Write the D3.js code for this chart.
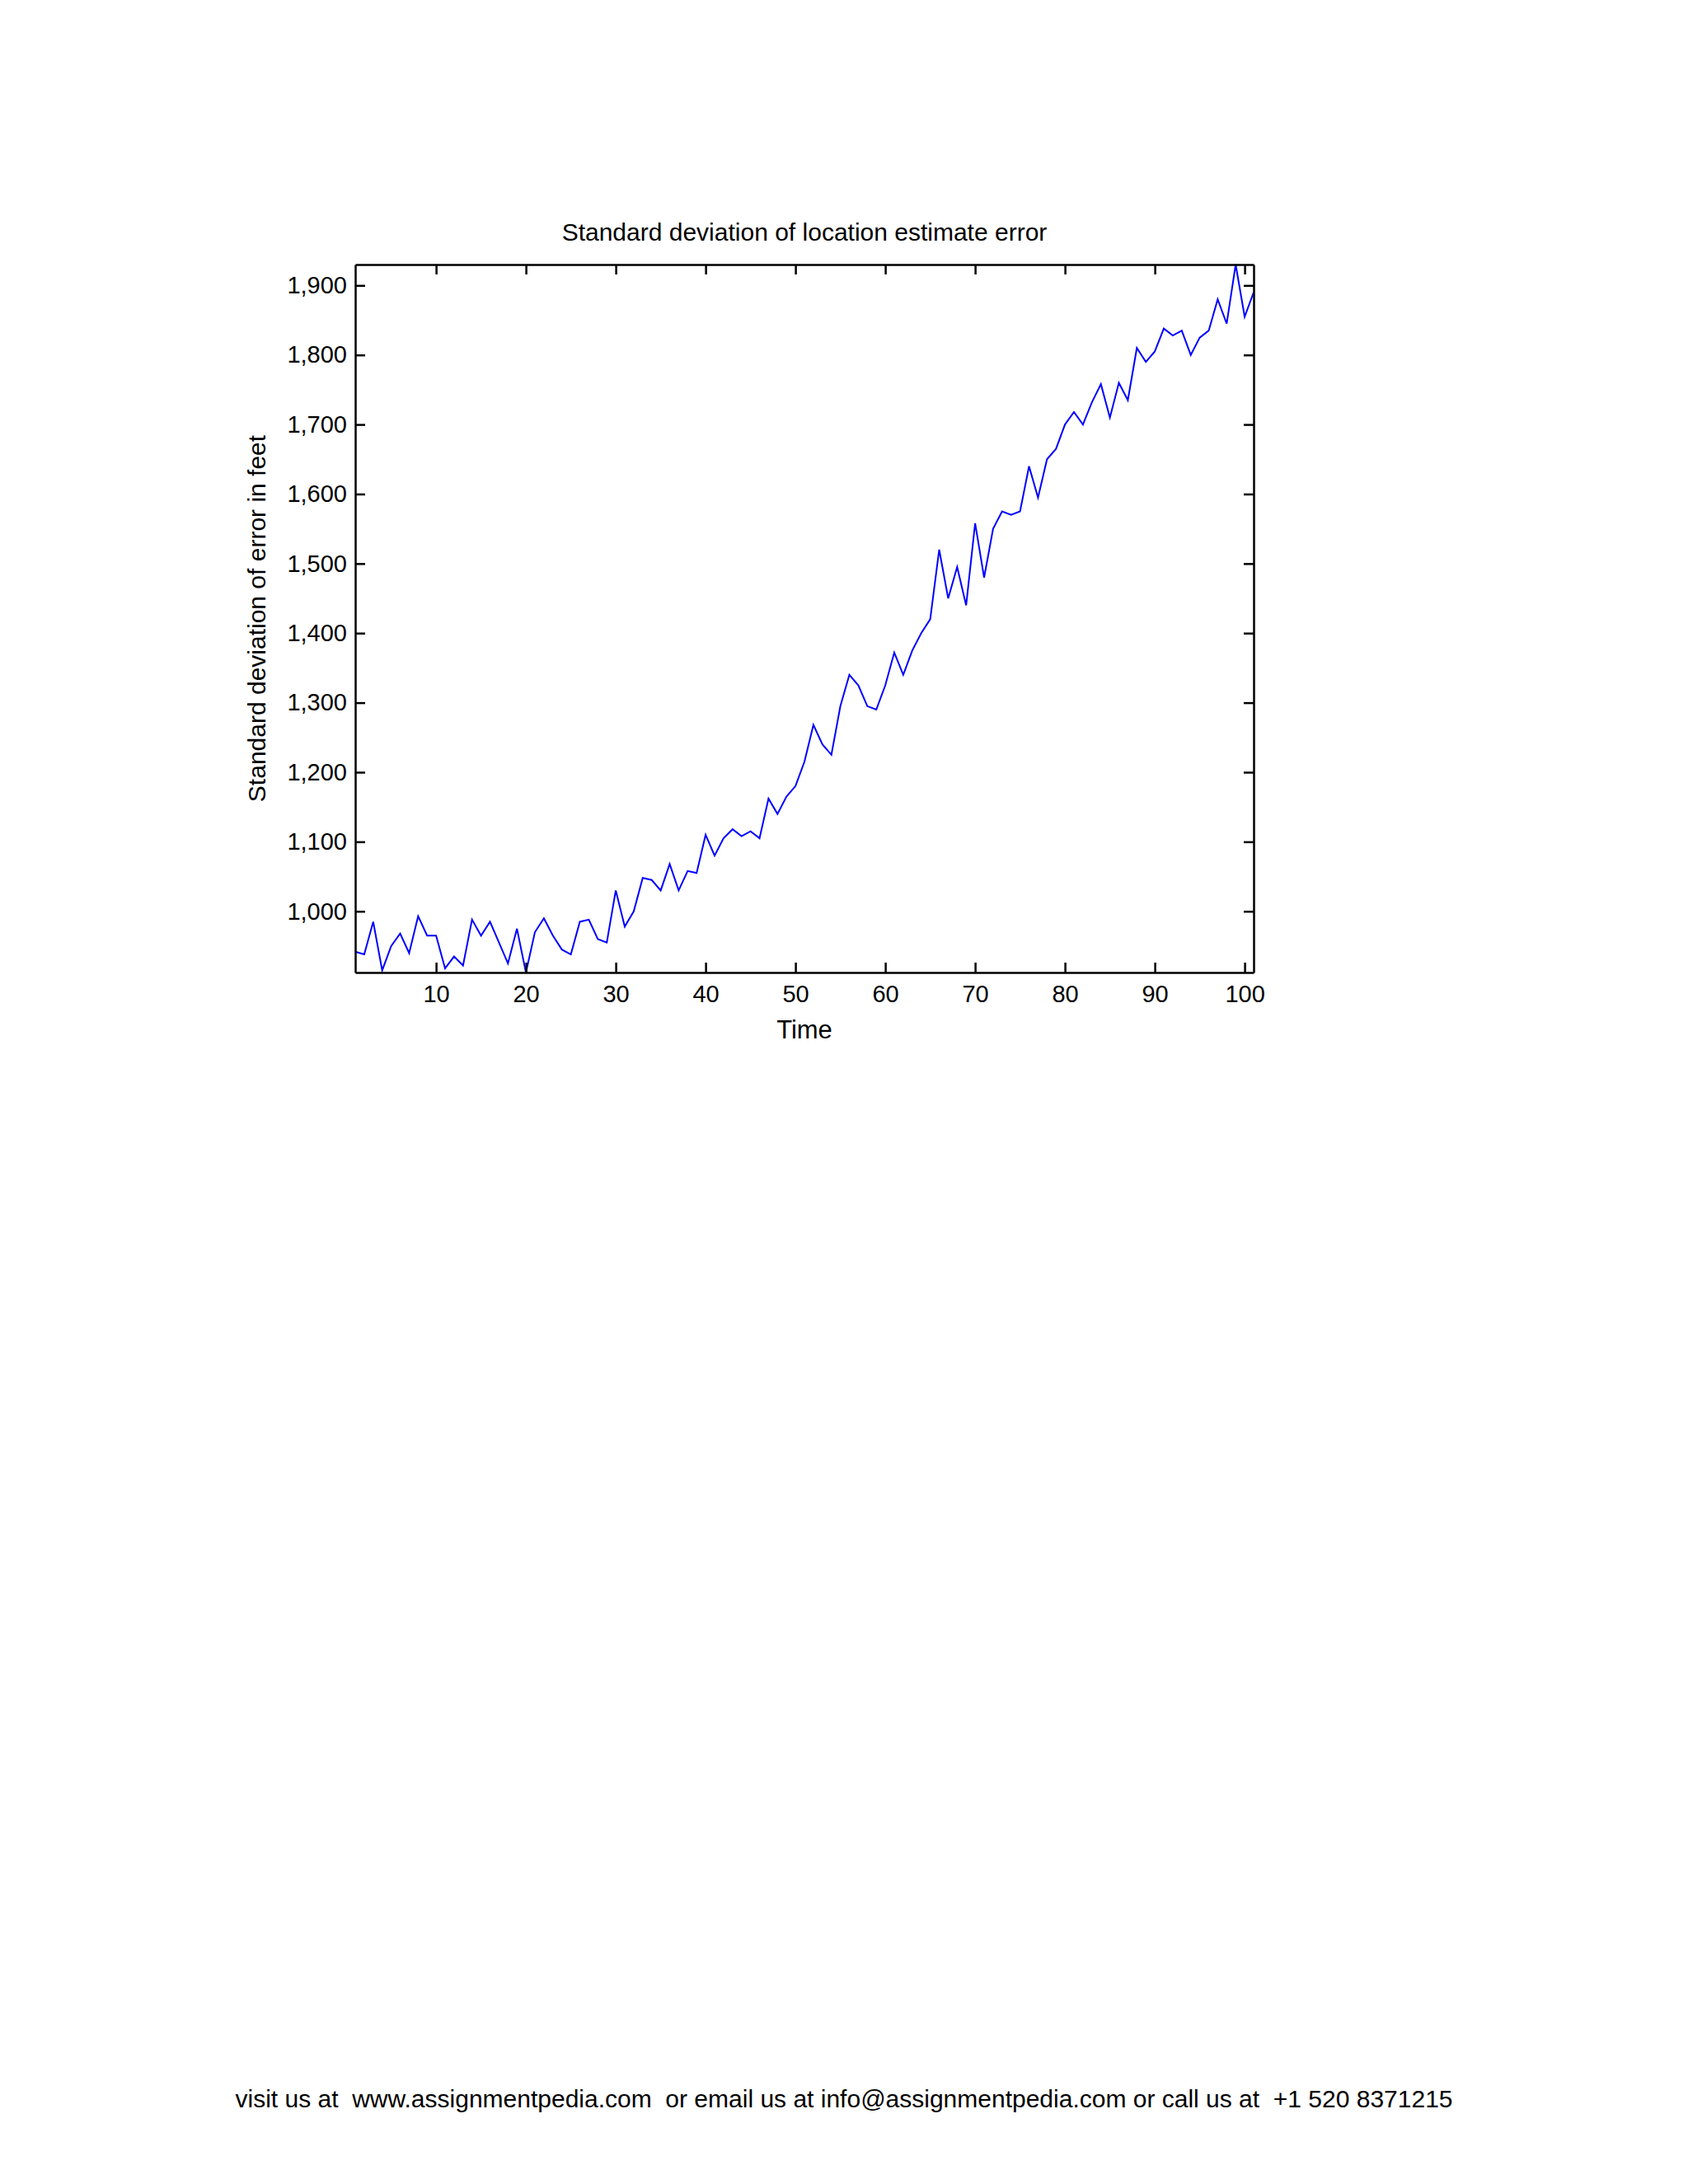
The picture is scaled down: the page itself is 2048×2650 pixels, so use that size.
<!DOCTYPE html>
<html>
<head>
<meta charset="utf-8">
<script src="https://cdn.jsdelivr.net/npm/d3@7"></script>
<style>
  body { margin: 0; background: #fff; }
  text { font-family: "Liberation Sans", Arial, sans-serif; }
</style>
</head>
<body>
<svg id="chart" width="2048" height="2650"></svg>
<script>
// Time steps (1..101) and std dev of location error (feet)
const times = d3.range(1, 102);
const stdDev = [942, 938, 985, 915, 950, 968, 940, 993, 965, 965,
  918, 935, 922, 988, 965, 985, 955, 925, 975, 912,
  970, 990, 965, 945, 938, 985, 988, 960, 955, 1030,
  978, 1000, 1048, 1045, 1030, 1068, 1030, 1058, 1055, 1110,
  1080, 1105, 1118, 1108, 1115, 1105, 1162, 1140, 1165, 1180,
  1215, 1268, 1240, 1225, 1295, 1340, 1325, 1295, 1290, 1325,
  1372, 1340, 1375, 1400, 1420, 1520, 1450, 1495, 1440, 1558,
  1480, 1550, 1575, 1570, 1575, 1640, 1595, 1650, 1665, 1700,
  1718, 1700, 1732, 1758, 1710, 1760, 1735, 1810, 1790, 1805,
  1838, 1828, 1835, 1800, 1825, 1835, 1880, 1845, 1930, 1855, 1890];
const xTicks = [10, 20, 30, 40, 50, 60, 70, 80, 90, 100];
const yTicks = [1000, 1100, 1200, 1300, 1400, 1500, 1600, 1700, 1800, 1900];

// Plot box
const plotLeft = 431, plotRight = 1521, plotTop = 321, plotBottom = 1180;
const svg = d3.select("#chart");

const xScale = d3.scaleLinear().domain([1, 101]).range([plotLeft, plotRight]);
const yScale = d3.scaleLinear().domain([912, 1930]).range([plotBottom, plotTop]);

// Data line
svg.append("path")
  .datum(times)
  .attr("fill", "none")
  .attr("stroke", "#0000ff")
  .attr("stroke-width", 2)
  .attr("d", d3.line().x(d => xScale(d)).y((d, i) => yScale(stdDev[i])));

const tickLen = 12;
const fontSize = 29;

// Axes: ticks inward, MATLAB style box
const axB = svg.append("g").attr("transform", `translate(0,${plotBottom})`)
  .call(d3.axisBottom(xScale).tickValues(xTicks).tickSizeInner(-tickLen).tickSizeOuter(0).tickPadding(10));
const axT = svg.append("g").attr("transform", `translate(0,${plotTop})`)
  .call(d3.axisTop(xScale).tickValues(xTicks).tickSizeInner(-tickLen).tickSizeOuter(0).tickFormat(""));
const axL = svg.append("g").attr("transform", `translate(${plotLeft},0)`)
  .call(d3.axisLeft(yScale).tickValues(yTicks).tickSizeInner(-tickLen).tickSizeOuter(0).tickPadding(10));
const axR = svg.append("g").attr("transform", `translate(${plotRight},0)`)
  .call(d3.axisRight(yScale).tickValues(yTicks).tickSizeInner(-tickLen).tickSizeOuter(0).tickFormat(""));

[axB, axT, axL, axR].forEach(a => {
  a.selectAll("path, line").attr("stroke", "#000").attr("stroke-width", 2.5);
  a.selectAll("text").attr("font-size", fontSize).attr("fill", "#000")
    .attr("font-family", "'Liberation Sans', Arial, sans-serif");
});
axB.selectAll("text").attr("dy", "0.9em");

// Title and axis labels
svg.append("text").attr("x", (plotLeft + plotRight) / 2).attr("y", 292)
  .attr("text-anchor", "middle").attr("font-size", 30).text("Standard deviation of location estimate error");
svg.append("text").attr("x", (plotLeft + plotRight) / 2).attr("y", 1260)
  .attr("text-anchor", "middle").attr("font-size", 31).text("Time");
svg.append("text").attr("transform", `translate(322,${(plotTop + plotBottom) / 2}) rotate(-90)`)
  .attr("text-anchor", "middle").attr("font-size", 30).text("Standard deviation of error in feet");

// Footer
svg.append("text").attr("x", 1024).attr("y", 2557)
  .attr("text-anchor", "middle").attr("font-size", 30)
  .attr("xml:space", "preserve")
  .text("visit us at  www.assignmentpedia.com  or email us at info@assignmentpedia.com or call us at  +1 520 8371215");
</script>
</body>
</html>
